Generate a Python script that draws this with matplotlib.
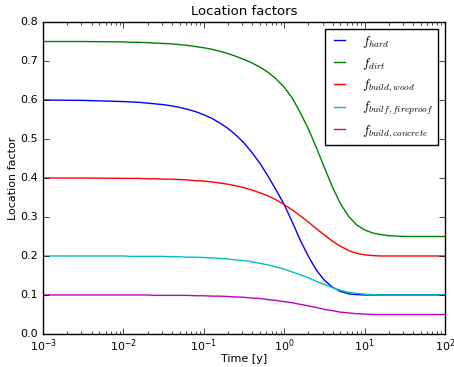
import matplotlib
matplotlib.use("Agg")
import matplotlib.pyplot as plt

# time in years (log spaced samples)
time_y = [0.001, 0.00316,
          0.01, 0.0126, 0.0158, 0.02, 0.0251, 0.0316, 0.0398, 0.0501, 0.0631, 0.0794,
          0.1, 0.126, 0.158, 0.2, 0.251, 0.316, 0.398, 0.501, 0.631, 0.794,
          1.0, 1.26, 1.58, 2.0, 2.51, 3.16, 3.98, 5.01, 6.31, 7.94,
          10.0, 12.6, 15.8, 20.0, 25.1, 31.6, 100.0]

f_hard = [0.600, 0.599,
          0.596, 0.595, 0.594, 0.592, 0.590, 0.588, 0.585, 0.581, 0.576, 0.570,
          0.562, 0.553, 0.541, 0.527, 0.510, 0.490, 0.465, 0.437, 0.404, 0.369,
          0.332, 0.287, 0.241, 0.199, 0.164, 0.138, 0.120, 0.109, 0.103, 0.101,
          0.100, 0.100, 0.100, 0.100, 0.100, 0.100, 0.100]
f_dirt = [0.750, 0.750,
          0.749, 0.748, 0.748, 0.747, 0.746, 0.745, 0.744, 0.742, 0.740, 0.737,
          0.734, 0.730, 0.725, 0.719, 0.712, 0.704, 0.695, 0.684, 0.671, 0.654,
          0.633, 0.605, 0.568, 0.526, 0.478, 0.427, 0.377, 0.334, 0.302, 0.280,
          0.267, 0.259, 0.255, 0.252, 0.251, 0.250, 0.250]
f_wood = [0.400, 0.400,
          0.399, 0.399, 0.399, 0.398, 0.398, 0.397, 0.397, 0.396, 0.395, 0.393,
          0.392, 0.390, 0.387, 0.384, 0.380, 0.375, 0.369, 0.362, 0.354, 0.344,
          0.332, 0.318, 0.303, 0.287, 0.270, 0.254, 0.238, 0.225, 0.214, 0.207,
          0.203, 0.201, 0.200, 0.200, 0.200, 0.200, 0.200]
f_fireproof = [0.200, 0.200,
               0.200, 0.199, 0.199, 0.199, 0.199, 0.199, 0.198, 0.198, 0.197, 0.197,
               0.196, 0.195, 0.194, 0.192, 0.190, 0.188, 0.185, 0.181, 0.177, 0.172,
               0.166, 0.159, 0.152, 0.144, 0.135, 0.127, 0.119, 0.112, 0.107, 0.104,
               0.102, 0.101, 0.100, 0.100, 0.100, 0.100, 0.100]
f_concrete = [0.100, 0.100,
              0.100, 0.100, 0.100, 0.100, 0.099, 0.099, 0.099, 0.099, 0.099, 0.098,
              0.098, 0.097, 0.097, 0.096, 0.095, 0.094, 0.092, 0.091, 0.088, 0.086,
              0.083, 0.080, 0.076, 0.072, 0.068, 0.063, 0.060, 0.056, 0.054, 0.052,
              0.051, 0.050, 0.050, 0.050, 0.050, 0.050, 0.050]

labels = [r'$f_{hard}$', r'$f_{dirt}$', r'$f_{build,wood}$',
          r'$f_{builf,fireproof}$', r'$f_{build,concrete}$']

plt.style.use('classic')
plt.rcParams['font.size'] = 8

fig = plt.figure(figsize=(4.54, 3.67), dpi=100, facecolor='white')
ax = fig.add_axes([0.095, 0.09, 0.885, 0.85])
for y, lab, c in zip([f_hard, f_dirt, f_wood, f_fireproof, f_concrete], labels, 'bgrcm'):
    ax.semilogx(time_y, y, color=c, label=lab, lw=1)
ax.set_xlim(1e-3, 1e2)
ax.set_ylim(0, 0.8)
ax.tick_params(axis='x', which='both', pad=2.5)
ax.set_xlabel('Time [y]', fontsize=8, labelpad=0)
ax.set_ylabel('Location factor', fontsize=8, labelpad=1.5)
ax.set_title('Location factors', fontsize=9.5)
ax.legend(loc=1, fontsize=9.5, handlelength=1.4, handletextpad=1.0, labelspacing=0.45)
fig.savefig('out.png', dpi=100, facecolor='white')
